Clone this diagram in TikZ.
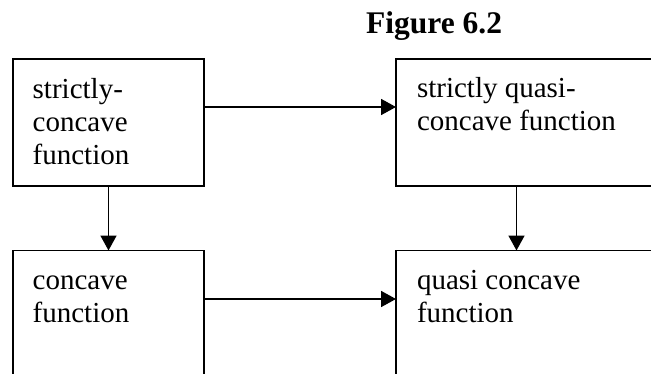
\documentclass[tikz,border=0pt]{standalone}
\usepackage{fontspec}
\setmainfont{Liberation Serif}
\usetikzlibrary{arrows.meta}
\begin{document}
\begin{tikzpicture}[x=1pt,y=1pt,
  box/.style={draw, line width=1.7pt, anchor=north west, inner sep=0pt, outer sep=0pt},
  lbl/.style={anchor=north west, inner sep=0pt, outer sep=0pt, align=left, font=\fontsize{29}{33}\selectfont},
  arr/.style={line width=1.7pt, -{Triangle[length=15pt,width=16pt]}}]
\useasboundingbox (0,0) rectangle (651,373);
\clip (0,0) rectangle (651,373);
\node[anchor=base west, inner sep=0pt, font=\fontsize{31.5}{36}\selectfont\bfseries] (title) at (366,339) {Figure 6.2};
\node[box, minimum width=191.6pt, minimum height=127pt] (b1) at (12.7,314) {};
\node[box, minimum width=310pt, minimum height=127pt] (b2) at (396,314) {};
\node[box, minimum width=191.6pt, minimum height=170pt] (b3) at (12.7,122.5) {};
\node[box, minimum width=310pt, minimum height=170pt] (b4) at (396,122.5) {};
\node[lbl] (t1) at ([xshift=20pt,yshift=-14pt]b1.north west) {\rule{0pt}{25pt}strictly-\\concave\\function};
\node[lbl] (t2) at ([xshift=21pt,yshift=-13pt]b2.north west) {\rule{0pt}{25pt}strictly quasi-\\concave function};
\node[lbl] (t3) at ([xshift=20pt,yshift=-14pt]b3.north west) {\rule{0pt}{25pt}concave\\function};
\node[lbl] (t4) at ([xshift=21pt,yshift=-14pt]b4.north west) {\rule{0pt}{25pt}quasi concave\\function};
\draw[arr] ([yshift=-48pt]b1.north east) -- ([yshift=-48pt]b2.north west);
\draw[arr] ([yshift=-48.5pt]b3.north east) -- ([yshift=-48.5pt]b4.north west);
\draw[arr] (b1.south) -- (b3.north);
\draw[arr] ([xshift=120.5pt]b2.south west) -- ([xshift=120.5pt]b4.north west);
\end{tikzpicture}
\end{document}
